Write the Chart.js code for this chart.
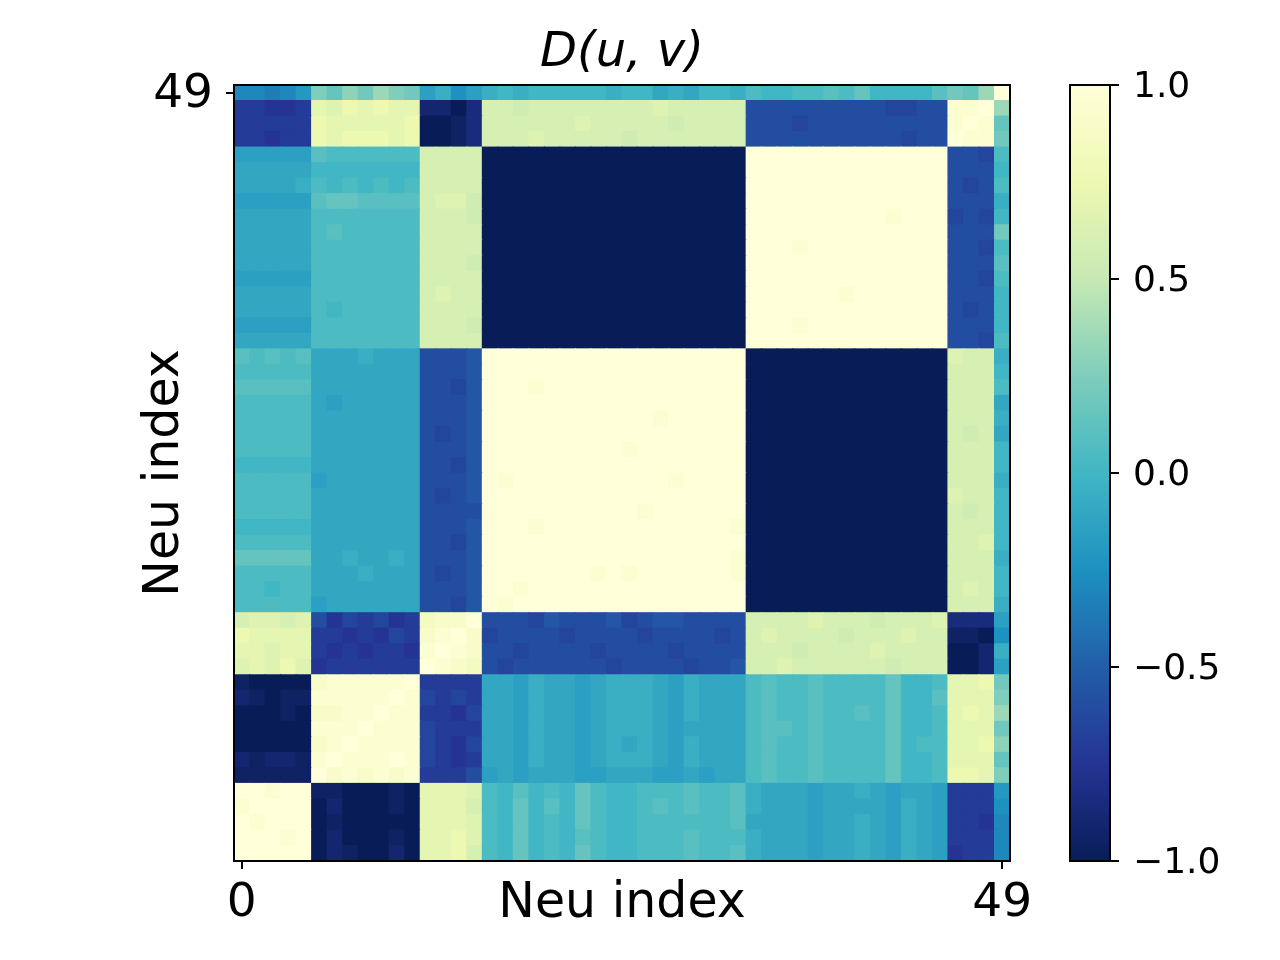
<!DOCTYPE html>
<html>
<head>
<meta charset="utf-8">
<script src="https://cdn.jsdelivr.net/npm/chart.js@4.4.0/dist/chart.umd.min.js"></script>
<style>
html, body { margin: 0; padding: 0; background: #ffffff; }
#wrap { position: relative; width: 1280px; height: 960px; overflow: hidden; }
#main { position: absolute; left: 0; top: 0; }
#cbar { position: absolute; left: 1040px; top: 0; }
</style>
</head>
<body>
<div id="wrap">
  <canvas id="main" width="1280" height="960"></canvas>
  <canvas id="cbar" width="240" height="960"></canvas>
</div>
<script>
// ---------------- DATA ----------------
// Level codes: A = -1.00, B = -0.95, ... U = 0.00, ... o = +1.00 (step 0.05)
const levelCodes = "ABCDEFGHIJKLMNOPQRSTUVWXYZabcdefghijklmno";

// D(u,v) matrix, row 0 (bottom) ... row 49 (top); 50 cells per row.
// '|' separates neuron groups (0-4 | 5-11 | 12-15 | 16-32 | 33-45 | 46-48 | 49), spaces are only for reading.
const matrixRows = [
  "ooooo|ACBAA CA|iijg|VUXUV UXVUU VVVWV VW|TSSSR SSTSR TSR|FGG|O",
  "ooono|ACAAA BA|iijh|VUXUV UWVUU VVVWV VV|TSSSR SSTSR TSR|GGG|O",
  "onooo|ABAAA AA|iiih|VUXUV UXVUU VVVVV VW|SSSSR SSTSR TSR|GGF|O",
  "noooo|ACAAA BA|iiig|VUXUW UXVUU VWVWV VW|TSSSR SSSSR TSR|GGG|P",
  "oonoo|BBAAA BA|iiih|VUWUV UXVUU VVVWV VW|TSSSR SSTSR SSR|GGG|Q",
  "BBBBB|omnmn mn|GGGI|RSRSS SRRSS SRRSR SS|VWVVW VVVVX UUV|jji|Z",
  "CBCCB|nonnn on|HGFG|SSRTS SRSTT TSRTS SS|VWVVW VVVVX UUV|iii|X",
  "AAAAA|mnonn nn|HGFH|SSRTS SRSTS TSRTS SS|VWVVW VVVVX UVV|iij|a",
  "AAAAA|nnnon nn|HGGG|SSRTS SRSTT TSRSS SS|VWWVW VVVVX UUV|iii|Y",
  "AAABA|mmnno nn|GGFH|SSRTS SRSTT TSRTS SS|VWVVW VVWVX UUV|iji|b",
  "CBABB|nnnnn on|HGHG|SSRTS SRSTT TSRTS SS|VWVVW VVVVX UUW|iii|Z",
  "BAAAA|mnnnn no|GGGG|SSRTS SRSTT TSRTS SS|VWVVW VVVVX UUV|iij|Y",
  "hihjh|FGGGG GG|onml|IHIII IIIHI IIIHI IJ|gghgg ggggf ggg|AAC|R",
  "iihii|GFGFG GF|nonm|IIHII IIHII IIHII II|gggfg gggh gggg|AAC|T",
  "jiiii|GGFGF HG|mnom|HIIII HIIII HIIII HI|ghggg gfggg hgg|BBA|P",
  "ghhgh|IFHGH FG|lmmo|IIIHJ IIIJH IJJII II|ggggh gggfg ggh|DDD|R",
  "VVVVV|RSSSS SS|IIHJ|onooo ooooo ooooo oo|AAAAA AAAAA AAA|ggg|T",
  "VVUVV|SSSSS SS|IIIJ|oonoo ooooo ooooo oo|AAAAA AAAAA AAA|ghg|U",
  "VVVVV|SSSTS SS|IHIJ|ooooo oonon ooooo on|AAAAA AAAAA AAA|ggg|U",
  "XXXXX|SSTSS TS|IIIJ|ooooo ooooo ooooo on|AAAAA AAAAA AAA|ggg|T",
  "VVVVV|SSSSS SS|IIHJ|ooooo ooooo ooooo oo|AAAAA AAAAA AAA|ggh|U",
  "UUUUU|SSSSS SS|IIIJ|ooono ooooo ooooo on|AAAAA AAAAA AAA|ggg|U",
  "VVVVV|SSSSS SS|IIII|ooooo ooooo noooo oo|AAAAA AAAAA AAA|gfg|U",
  "VVVVV|SSSSS SS|IHIJ|ooooo ooooo ooooo oo|AAAAA AAAAA AAA|hgg|U",
  "VVVVV|RSSSS SS|IIIJ|onooo ooooo oonoo oo|AAAAA AAAAA AAA|ggg|T",
  "UUUUU|SSSSS SS|IIHJ|ooooo ooooo ooooo oo|AAAAA AAAAA AAA|ggg|U",
  "VVVVV|SSSSS SS|IIIJ|ooooo oooon ooooo oo|AAAAA AAAAA AAA|ggg|U",
  "VVVVV|SSSSS SS|IHIJ|ooooo ooooo ooooo oo|AAAAA AAAAA AAA|gfg|S",
  "VVVVV|SSSSS SS|IIIJ|ooooo ooooo onooo oo|AAAAA AAAAA AAA|ggg|T",
  "VVVVV|SRSSS SS|IIIJ|ooooo ooooo ooooo oo|AAAAA AAAAA AAA|ggg|S",
  "WWWWW|SSSSS SS|IIHJ|ooono ooooo ooooo oo|AAAAA AAAAA AAA|ggg|V",
  "VVVVV|SSSSS SS|IIIJ|ooooo ooooo ooooo oo|AAAAA AAAAA AAA|ggg|U",
  "WVWVW|SSSTS SS|IIIJ|ooooo ooooo ooooo oo|AAAAA AAAAA AAA|hgg|T",
  "SSSSS|VVVVV VV|gggg|AAAAA AAAAA AAAAA AA|ooooo ooooo ooo|IIH|V",
  "RRRRR|VVVVV VV|gggf|AAAAA AAAAA AAAAA AA|ooono ooooo ooo|III|U",
  "SSSSS|VUVVV VV|gggg|AAAAA AAAAA AAAAA AA|ooooo ooooo ooo|IHI|U",
  "SSSSS|VVVVV VV|ghgg|AAAAA AAAAA AAAAA AA|ooooo onooo ooo|III|U",
  "RRRRR|VVVVV VV|gggg|AAAAA AAAAA AAAAA AA|ooooo ooooo ooo|IIH|V",
  "SSSSS|VVVVV VV|gggf|AAAAA AAAAA AAAAA AA|ooooo ooooo ooo|III|W",
  "SSSSS|VVVVV VV|gggg|AAAAA AAAAA AAAAA AA|ooono ooooo ooo|IIH|V",
  "SSSSS|VWVVV VV|gggg|AAAAA AAAAA AAAAA AA|ooooo ooooo ooo|III|Y",
  "SSSSS|VVVVV VV|gggf|AAAAA AAAAA AAAAA AA|ooooo oooon ooo|HIH|U",
  "RRRRR|WXXWW WW|ghhf|AAAAA AAAAA AAAAA AA|ooooo ooooo ooo|III|T",
  "SSSST|VUVUV UV|gggg|AAAAA AAAAA AAAAA AA|ooooo ooooo ooo|IHI|V",
  "SSSSS|UUUUU UU|gggg|AAAAA AAAAA AAAAA AA|ooooo ooooo ooo|III|U",
  "RRRRR|WVVVV VV|gggg|AAAAA AAAAA AAAAA AA|ooooo ooooo ooo|IIH|V",
  "GGFGG|jijjj ij|AABD|ggghg ggggf ggggg gg|IIIII IIIII HII|onn|Y",
  "GGGGG|jiiii ij|AABD|ggggg ghggg ggfgg gg|IIIHI IIIII III|non|X",
  "GGFFG|ihjij ii|CCAD|ggfgg ggggg ghggg gg|IIIII IIIIH HII|nno|b",
  "OONOQ|ZXaYb ZY|RTPR|TUTUU UUUTU USTSU UT|VUUVV WVXUU UUW|YXb|o"
];

const neuronLabels = Array.from({ length: 50 }, (_, i) => String(i));
const xTickValues = [0, 49];
const yTickValues = [49];
const colorbarTicks = [-1, -0.5, 0, 0.5, 1];
const colorbarTickLabels = ["\u22121.0", "\u22120.5", "0.0", "0.5", "1.0"];
const titleText = "D(u, v)";
const axisLabel = "Neu index";
// YlGnBu colormap stops (shown reversed: +1 light yellow, -1 navy)
const ylgnbuStops = ["#ffffd9", "#edf8b1", "#c7e9b4", "#7fcdbb", "#41b6c4", "#1d91c0", "#225ea8", "#253494", "#081d58"];

// ---------------- HELPERS ----------------
const values = matrixRows.map((s, r) => {
  const cells = Array.from(s.replace(/[ |]/g, ""), ch => -1 + 0.05 * levelCodes.indexOf(ch));
  if (cells.length !== 50) console.error("row " + r + " has " + cells.length + " cells");
  return cells;
});

const stopRgb = ylgnbuStops.map(h => [parseInt(h.slice(1, 3), 16), parseInt(h.slice(3, 5), 16), parseInt(h.slice(5, 7), 16)]);
function cmap(v) {
  const c = Math.max(-1, Math.min(1, v));
  const t = (1 - c) / 2 * (stopRgb.length - 1);
  const i = Math.min(Math.floor(t), stopRgb.length - 2);
  const f = t - i;
  const a = stopRgb[i], b = stopRgb[i + 1];
  const m = k => Math.round(a[k] + (b[k] - a[k]) * f);
  return "rgb(" + m(0) + "," + m(1) + "," + m(2) + ")";
}

const framePlugin = {
  id: "frame",
  afterDatasetsDraw(chart) {
    const { ctx, chartArea: a } = chart;
    ctx.save();
    ctx.strokeStyle = "#000";
    ctx.lineWidth = 2;
    ctx.strokeRect(a.left, a.top, a.right - a.left, a.bottom - a.top);
    ctx.restore();
  }
};

Chart.defaults.font.family = "'DejaVu Sans', sans-serif";
Chart.defaults.color = "#000";

// ---------------- MAIN HEATMAP ----------------
const datasets = values.map((row, r) => ({
  data: row.map(() => [r - 0.5, r + 0.5]),
  backgroundColor: row.map(cmap),
  borderWidth: 0,
  barPercentage: 1,
  categoryPercentage: 1,
  grouped: false,
  inflateAmount: 0.5
}));

const tickGrid = { drawOnChartArea: false, color: "#000", tickLength: 8, tickWidth: 2, lineWidth: 2, offset: false };

new Chart(document.getElementById("main"), {
  type: "bar",
  data: { labels: neuronLabels, datasets },
  options: {
    responsive: false,
    animation: false,
    devicePixelRatio: 1,
    layout: { padding: { left: 0, right: 270, top: 0, bottom: 0 } },
    plugins: {
      legend: { display: false },
      tooltip: { enabled: false },
      title: {
        display: true, text: titleText, fullSize: false, color: "#000",
        font: { size: 48, style: "italic", weight: "normal" },
        padding: { top: 25, bottom: 2.4 }
      }
    },
    scales: {
      x: {
        type: "category",
        offset: true,
        grid: tickGrid,
        border: { display: false },
        ticks: { autoSkip: false, maxRotation: 0, minRotation: 0, padding: 7, color: "#000", font: { size: 47 } },
        afterBuildTicks: s => { s.ticks = xTickValues.map(v => ({ value: v })); },
        afterFit: s => { s.height = 99; },
        title: { display: true, text: axisLabel, color: "#000", font: { size: 49 }, padding: { top: 26, bottom: 26 } }
      },
      y: {
        type: "linear",
        min: -0.5, max: 49.5, bounds: "data",
        grid: tickGrid,
        border: { display: false },
        ticks: { padding: 13, labelOffset: 2, color: "#000", font: { size: 47 } },
        afterBuildTicks: s => { s.ticks = yTickValues.map(v => ({ value: v })); },
        afterFit: s => { s.width = 234; },
        title: { display: true, text: axisLabel, color: "#000", font: { size: 49 }, padding: { top: 135.6, bottom: 135.6 } }
      }
    }
  },
  plugins: [framePlugin]
});

// ---------------- COLORBAR ----------------
new Chart(document.getElementById("cbar"), {
  type: "bar",
  data: {
    labels: ["D"],
    datasets: [{
      data: [[colorbarTicks[0], colorbarTicks[colorbarTicks.length - 1]]],
      backgroundColor: c => {
        const ch = c.chart, ys = ch.scales.y;
        if (!ch.chartArea || !ys) return "#41b6c4";
        const g = ch.ctx.createLinearGradient(0, ys.getPixelForValue(-1), 0, ys.getPixelForValue(1));
        ylgnbuStops.forEach((col, i) => g.addColorStop(1 - i / (ylgnbuStops.length - 1), col));
        return g;
      },
      borderWidth: 0,
      barPercentage: 1,
      categoryPercentage: 1,
      inflateAmount: 0
    }]
  },
  options: {
    responsive: false,
    animation: false,
    devicePixelRatio: 1,
    layout: { padding: { left: 30, right: 0, top: 85, bottom: 99 } },
    plugins: { legend: { display: false }, tooltip: { enabled: false }, title: { display: false } },
    scales: {
      x: { display: false, offset: true },
      y: {
        position: "right",
        min: -1, max: 1, bounds: "data",
        grid: { drawOnChartArea: false, color: "#000", tickLength: 9, tickWidth: 2, lineWidth: 2 },
        border: { display: false },
        ticks: { padding: 14, labelOffset: 3, color: "#000", font: { size: 36 }, callback: (v, i) => colorbarTickLabels[i] },
        afterBuildTicks: s => { s.ticks = colorbarTicks.map(v => ({ value: v })); },
        afterFit: s => { s.width = 170; }
      }
    }
  },
  plugins: [framePlugin]
});
</script>
</body>
</html>
